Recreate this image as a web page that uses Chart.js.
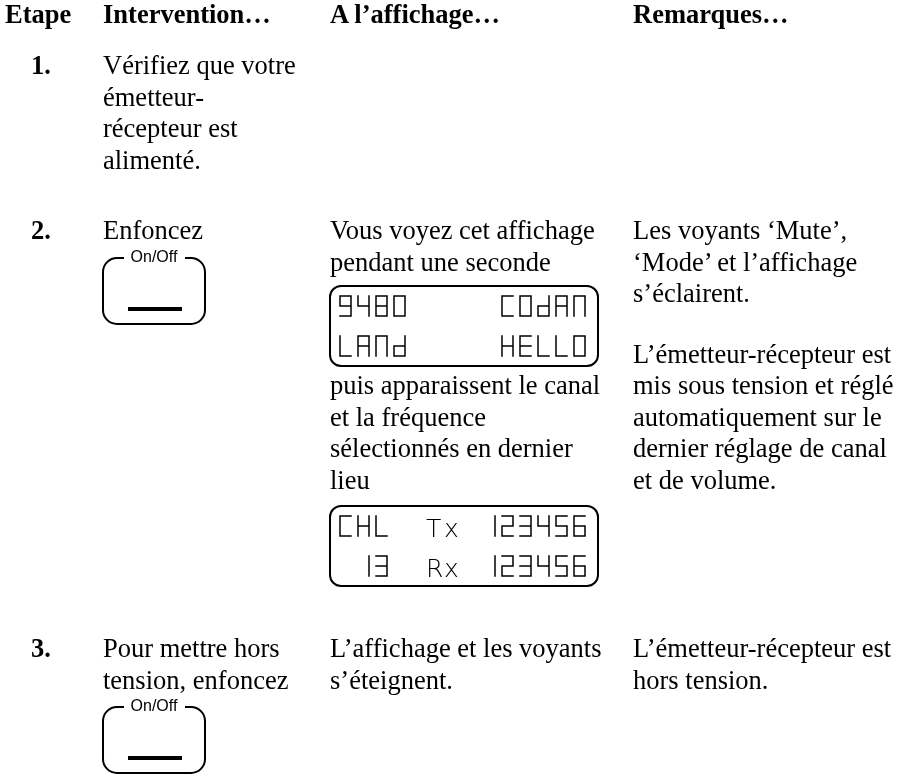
<!DOCTYPE html>
<html>
<head>
<meta charset="utf-8">
<script src="https://cdn.jsdelivr.net/npm/chart.js@4.4.0/dist/chart.umd.min.js"></script>
<style>
html, body { margin: 0; padding: 0; background: #fff; }
#page { position: relative; width: 903px; height: 774px; overflow: hidden; }
#chart { position: absolute; left: 0; top: 0; }
.t { position: absolute; font-family: "Liberation Serif", "Times New Roman", serif; font-size: 26.5px; line-height: 31.5px; color: #000; white-space: nowrap; }
.b { font-weight: bold; }
</style>
</head>
<body>
<div id="page">
  <canvas id="chart" width="903" height="774"></canvas>

  <div class="t b" style="left:5px;top:-1px">Etape</div>
  <div class="t b" style="left:103px;top:-1px">Intervention…</div>
  <div class="t b" style="left:330px;top:-1px">A l’affichage…</div>
  <div class="t b" style="left:633px;top:-1px">Remarques…</div>

  <div class="t b" style="left:31px;top:50px">1.</div>
  <div class="t" style="left:103px;top:50px">Vérifiez que votre<br>émetteur-<br>récepteur est<br>alimenté.</div>

  <div class="t b" style="left:31px;top:215px">2.</div>
  <div class="t" style="left:103px;top:215px">Enfoncez</div>
  <div class="t" style="left:330px;top:215px">Vous voyez cet affichage<br>pendant une seconde</div>
  <div class="t" style="left:330px;top:370px">puis apparaissent le canal<br>et la fréquence<br>sélectionnés en dernier<br>lieu</div>
  <div class="t" style="left:633px;top:215px">Les voyants ‘Mute’,<br>‘Mode’ et l’affichage<br>s’éclairent.</div>
  <div class="t" style="left:633px;top:338.5px">L’émetteur-récepteur est<br>mis sous tension et réglé<br>automatiquement sur le<br>dernier réglage de canal<br>et de volume.</div>

  <div class="t b" style="left:31px;top:633px">3.</div>
  <div class="t" style="left:103px;top:633px">Pour mettre hors<br>tension, enfoncez</div>
  <div class="t" style="left:330px;top:633px">L’affichage et les voyants<br>s’éteignent.</div>
  <div class="t" style="left:633px;top:633px">L’émetteur-récepteur est<br>hors tension.</div>
</div>

<script>
// what the two displays show, one string per display line (14 cells each)
var lcdStartup = ["9480     C0dAn", "LAnd     HELL0"];
var lcdChannel = ["CHL  Tx 123456", " 13  Rx 123456"];
var buttonLabel = "On/Off";

// segments lit for each character: a top, b upper right, c lower right,
// d bottom, e lower left, f upper left, g middle
var segmentMap = {
    "0": "abcdef", "1": "bc", "2": "abged", "3": "abgcd", "4": "fgbc",
    "5": "afgcd", "6": "afgedc", "8": "abcdefg", "9": "abcdfg",
    "C": "adef", "d": "bcdeg", "A": "abcefg", "n": "abcef",
    "L": "def", "H": "bcefg", "E": "adefg"
};
// characters printed as plain letters on the display
var textChars = "TRx";

function drawSegment(ctx, s, x, y, w, h) {
    var m = y + h / 2;
    var lines = {
        a: [x, y, x + w, y], b: [x + w, y, x + w, m], c: [x + w, m, x + w, y + h],
        d: [x, y + h, x + w, y + h], e: [x, m, x, y + h], f: [x, y, x, m],
        g: [x, m, x + w, m]
    };
    var l = lines[s];
    ctx.moveTo(l[0], l[1]);
    ctx.lineTo(l[2], l[3]);
}

function roundRect(ctx, x0, y0, x1, y1, r) {
    ctx.beginPath();
    ctx.moveTo(x0 + r, y0);
    ctx.lineTo(x1 - r, y0);
    ctx.arcTo(x1, y0, x1, y0 + r, r);
    ctx.lineTo(x1, y1 - r);
    ctx.arcTo(x1, y1, x1 - r, y1, r);
    ctx.lineTo(x0 + r, y1);
    ctx.arcTo(x0, y1, x0, y1 - r, r);
    ctx.lineTo(x0, y0 + r);
    ctx.arcTo(x0, y0, x0 + r, y0, r);
    ctx.closePath();
    ctx.stroke();
}

function drawDisplay(chart, lines, top) {
    var ctx = chart.ctx;
    var sx = chart.scales.x, sy = chart.scales.y;
    var x0 = sx.getPixelForValue(330), x1 = sx.getPixelForValue(598);
    var y0 = sy.getPixelForValue(top), y1 = sy.getPixelForValue(top + 80);
    ctx.save();
    ctx.strokeStyle = "#000";
    ctx.lineWidth = 2;
    roundRect(ctx, x0, y0, x1, y1, 11);

    var pitch = 18, w = 11, h = 20;
    ctx.lineWidth = 1.5;
    ctx.lineCap = "square";
    for (var r = 0; r < lines.length; r++) {
        var cy = y0 + 10 + r * 40;
        for (var i = 0; i < lines[r].length; i++) {
            var ch = lines[r][i];
            var cx = x0 + 10 + i * pitch;
            if (segmentMap[ch]) {
                ctx.beginPath();
                var segs = segmentMap[ch];
                for (var k = 0; k < segs.length; k++) drawSegment(ctx, segs[k], cx, cy, w, h);
                ctx.stroke();
            } else if (textChars.indexOf(ch) >= 0) {
                ctx.fillStyle = "#000";
                ctx.font = "200 25px 'DejaVu Sans', sans-serif";
                ctx.textBaseline = "alphabetic";
                ctx.fillText(ch, cx - 4, cy + h + 0.5);
            }
        }
    }
    ctx.restore();
}

function drawButton(chart, top) {
    var ctx = chart.ctx;
    var sx = chart.scales.x, sy = chart.scales.y;
    var x0 = sx.getPixelForValue(103), x1 = sx.getPixelForValue(205);
    var y0 = sy.getPixelForValue(top), y1 = sy.getPixelForValue(top + 66);
    var r = 14, gapL = x0 + 21, gapR = x1 - 20;
    ctx.save();
    ctx.strokeStyle = "#000";
    ctx.lineWidth = 2;
    ctx.beginPath();
    ctx.moveTo(gapR, y0);
    ctx.lineTo(x1 - r, y0);
    ctx.arcTo(x1, y0, x1, y0 + r, r);
    ctx.lineTo(x1, y1 - r);
    ctx.arcTo(x1, y1, x1 - r, y1, r);
    ctx.lineTo(x0 + r, y1);
    ctx.arcTo(x0, y1, x0, y1 - r, r);
    ctx.lineTo(x0, y0 + r);
    ctx.arcTo(x0, y0, x0 + r, y0, r);
    ctx.lineTo(gapL, y0);
    ctx.stroke();

    ctx.lineWidth = 4;
    ctx.beginPath();
    ctx.moveTo(x0 + 25, y0 + 51);
    ctx.lineTo(x1 - 23, y0 + 51);
    ctx.stroke();

    ctx.fillStyle = "#000";
    ctx.font = "16px 'Liberation Sans', Arial, sans-serif";
    ctx.textAlign = "center";
    ctx.textBaseline = "alphabetic";
    ctx.fillText(buttonLabel, (x0 + x1) / 2, y0 + 4);
    ctx.restore();
}

var drawingsPlugin = {
    id: "drawings",
    afterDraw: function (chart) {
        drawButton(chart, 258);
        drawButton(chart, 707);
        drawDisplay(chart, lcdStartup, 286);
        drawDisplay(chart, lcdChannel, 506);
    }
};

var ctx = document.getElementById("chart").getContext("2d");
var chart = new Chart(ctx, {
    type: "scatter",
    data: { datasets: [] },
    options: {
        responsive: false,
        animation: false,
        layout: { padding: 0 },
        scales: {
            x: { type: "linear", min: 0, max: 903, display: false },
            y: { type: "linear", min: 0, max: 774, reverse: true, display: false }
        },
        plugins: { legend: { display: false }, tooltip: { enabled: false } }
    },
    plugins: [drawingsPlugin]
});
</script>
</body>
</html>
